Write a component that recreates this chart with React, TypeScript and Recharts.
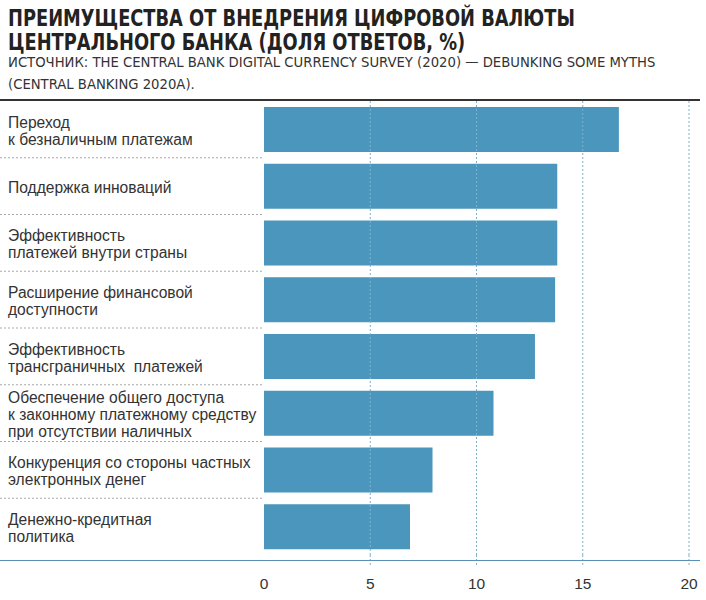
import React from "react";
import { BarChart, Bar, XAxis, YAxis, ReferenceLine } from "recharts";

const categories = [
  "Переход\nк безналичным платежам",
  "Поддержка инноваций",
  "Эффективность\nплатежей внутри страны",
  "Расширение финансовой\nдоступности",
  "Эффективность\nтрансграничных  платежей",
  "Обеспечение общего доступа\nк законному платежному средству\nпри отсутствии наличных",
  "Конкуренция со стороны частных\nэлектронных денег",
  "Денежно-кредитная\nполитика",
];
const shares = [16.7, 13.8, 13.8, 13.7, 12.75, 10.8, 7.93, 6.87];
const xTicks = [0, 5, 10, 15, 20];

const data = categories.map((name, i) => ({ name, value: shares[i] }));

const W = 706;
const H = 600;
const M = { top: 101, right: 17, bottom: 15, left: 0 };
const Y_W = 264;
const X_H = 30;
const PLOT_BOTTOM = H - M.bottom - X_H;
const bandH = (PLOT_BOTTOM - M.top) / categories.length;

const LABEL_FONT = "'Liberation Sans', Arial, sans-serif";
const GRID = "#7fb0cc";

function CategoryTick(props: any) {
  const { y, payload } = props;
  const lines = String(payload.value).split("\n");
  const lh = 16.8;
  const start = y - ((lines.length - 1) * lh) / 2 + 1;
  const bottom = y + bandH / 2;
  return (
    <g>
      <text x={8} y={start} fontSize={15.6} fill="#333" fontFamily={LABEL_FONT} dominantBaseline="central">
        {lines.map((l, i) => (
          <tspan key={i} x={8} y={start + i * lh} style={{ whiteSpace: "pre" }}>
            {l}
          </tspan>
        ))}
      </text>
      {payload.index < categories.length - 1 && (
        <line x1={0} x2={Y_W} y1={bottom} y2={bottom} stroke="#a9a9a9" strokeDasharray="2 2" strokeWidth={1} />
      )}
    </g>
  );
}

function ValueTick(props: any) {
  const { x, payload } = props;
  return (
    <g>
      {payload.value > 0 && (
        <line x1={x} x2={x} y1={PLOT_BOTTOM} y2={PLOT_BOTTOM + 10} stroke={GRID} strokeDasharray="2 2" />
      )}
      <text x={x} y={PLOT_BOTTOM + 28} textAnchor="middle" fontSize={15.5} fill="#333" fontFamily={LABEL_FONT} dominantBaseline="central">
        {payload.value}
      </text>
    </g>
  );
}

export default function App() {
  return (
    <div style={{ position: "absolute", left: 0, top: 0, width: W, height: H, background: "#fff" }}>
      <div
        style={{
          position: "absolute",
          left: 8,
          top: 6,
          fontFamily: "'DejaVu Sans Condensed', 'DejaVu Sans', sans-serif",
          fontWeight: 700,
          fontSize: 22.5,
          lineHeight: "24px",
          color: "#222",
          whiteSpace: "nowrap",
          transform: "scaleX(0.88)",
          transformOrigin: "left top",
        }}
      >
        ПРЕИМУЩЕСТВА ОТ ВНЕДРЕНИЯ ЦИФРОВОЙ ВАЛЮТЫ
        <br />
        ЦЕНТРАЛЬНОГО БАНКА (ДОЛЯ ОТВЕТОВ, %)
      </div>
      <div
        style={{
          position: "absolute",
          left: 8,
          top: 51,
          fontFamily: "'Liberation Sans Narrow', 'DejaVu Sans Condensed', sans-serif",
          fontSize: 14.7,
          lineHeight: "22px",
          color: "#333",
          whiteSpace: "nowrap",
        }}
      >
        ИСТОЧНИК: THE CENTRAL BANK DIGITAL CURRENCY SURVEY (2020) — DEBUNKING SOME MYTHS
        <br />
        (CENTRAL BANKING 2020A).
      </div>
      <div style={{ position: "absolute", left: 0, top: 99, width: 700, height: 2, background: "#333" }} />
      <BarChart
        width={W}
        height={H}
        data={data}
        layout="vertical"
        margin={M}
        barSize={45}
      >
        <XAxis
          type="number"
          domain={[0, 20]}
          ticks={xTicks}
          height={X_H}
          axisLine={false}
          tickLine={false}
          tick={<ValueTick />}
        />
        <YAxis
          dataKey="name"
          type="category"
          width={Y_W}
          axisLine={false}
          tickLine={false}
          interval={0}
          tick={<CategoryTick />}
        />
        {xTicks.slice(1).map((t) => (
          <ReferenceLine key={t} x={t} stroke={GRID} strokeDasharray="2 2" strokeWidth={1} />
        ))}
        <Bar dataKey="value" fill="#4a96bc" isAnimationActive={false} />
      </BarChart>
      <div style={{ position: "absolute", left: 0, top: 559.5, width: 700, height: 1.5, background: "#5a8fb5" }} />
    </div>
  );
}
